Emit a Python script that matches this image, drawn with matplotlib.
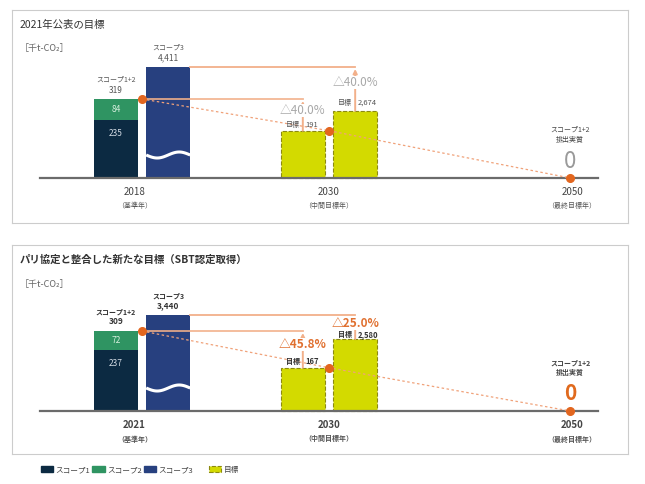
import numpy as np
import matplotlib.pyplot as plt
from matplotlib.patches import Patch

plt.rcParams['font.family'] = ['Noto Sans CJK JP', 'DejaVu Sans']

# values in 千t-CO2, one entry per panel (2021 announcement, SBT-aligned)
panel_titles = ['2021年公表の目標', 'パリ協定と整合した新たな目標（SBT認定取得）']
base_years = ['2018', '2021']
years_after = ['2030', '2050']
year_notes = ['（基準年）', '（中間目標年）', '（最終目標年）']
scope1 = [235, 237]
scope2 = [84, 72]
scope12 = [319, 309]
scope3 = [4411, 3440]
target12 = [191, 167]
target3 = [2674, 2580]
cut12 = ['△40.0%', '△45.8%']
cut3 = ['△40.0%', '△25.0%']
net_zero = [0, 0]
legend_labels = ['スコープ1', 'スコープ2', 'スコープ3', '目標']

# colours
C1, C2, C3 = '#0c2a42', '#2f9462', '#27407f'
CT, CTE = '#d3da00', '#8c8a10'
DOT, LINE, DASH = '#e2661f', '#f2b08a', '#f0a27a'

W, H = 645, 484
fig = plt.figure(figsize=(W / 100, H / 100), dpi=100)

X0, PX = 142, 187          # pixel of first group, pixels per group step
xpos = [0, 1, 2.29]
xlab_shift = [-0.04, 0, 0.01]
DX, BW = 0.14, 0.235

# panel boxes in pixels: left, top, right, bottom, baseline
boxes = [(12, 10, 628, 223, 178), (12, 245, 628, 454, 411)]
k12s = [79 / 319, 80 / 309]     # px per unit, scope 1+2
k3s = [111 / 4411, 96 / 3440]   # px per unit, scope 3 (broken scale)
P = 0.72                        # points per pixel


def draw_panel(i):
    left, top, right, bottom, base = boxes[i]
    h = bottom - top
    off = bottom - base
    k12, k3 = k12s[i], k3s[i]
    bold = 'bold' if i == 1 else 'normal'
    txt = '#333333' if i == 1 else '#555555'
    pct_col = '#e07030' if i == 1 else '#a8a8a8'

    ax = fig.add_axes([left / W, 1 - bottom / H, (right - left) / W, h / H])
    ax.set_xlim((left - X0) / PX, (right - X0) / PX)
    ax.set_ylim(-off / k12, (h - off) / k12)
    ax3 = ax.twinx()
    ax3.set_ylim(-off / k3, (h - off) / k3)
    ax.set_zorder(ax3.get_zorder() + 1)
    ax.patch.set_visible(False)
    ax.set_xticks([])
    ax.set_yticks([])
    ax3.set_yticks([])
    for s in ax3.spines.values():
        s.set_visible(False)
    for s in ax.spines.values():
        s.set_color('#cccccc')
        s.set_linewidth(0.8)

    x0, x1, x2 = xpos
    s1, s2, s12, s3 = scope1[i], scope2[i], scope12[i], scope3[i]
    t12, t3 = target12[i], target3[i]

    # bars
    ax.bar(x0 - DX, s1, BW, color=C1, zorder=2)
    ax.bar(x0 - DX, s2, BW, bottom=s1, color=C2, zorder=2)
    ax3.bar(x0 + DX, s3, BW, color=C3, zorder=2)
    ax.bar(x1 - DX, t12, BW, color=CT, edgecolor=CTE, linestyle='--', linewidth=0.8, zorder=2)
    ax3.bar(x1 + DX, t3, BW, color=CT, edgecolor=CTE, linestyle='--', linewidth=0.8, zorder=2)

    # break mark on the scope 3 bar
    wx = np.linspace(x0 + DX - BW / 2, x0 + DX + BW / 2, 60)
    wy = (23 + 3 * np.sin((wx - wx[0]) / BW * 2 * np.pi + np.pi)) / k12
    ax.plot(wx, wy, color='white', lw=2.2, zorder=6, solid_capstyle='butt')

    # baseline
    ax.plot([(40 - X0) / PX, (598 - X0) / PX], [0, 0], color='#6b6b6b', lw=1.6, zorder=3)

    # reduction connectors
    ax.plot([x0, x1 - DX], [s12, s12], color=LINE, lw=1.3, alpha=0.9, zorder=3)
    ax.annotate('', xy=(x1 - DX, s12 - 2 / k12), xytext=(x1 - DX, t12),
                arrowprops=dict(arrowstyle='-|>', color=LINE, lw=1.4,
                                shrinkA=0, shrinkB=0, mutation_scale=6), zorder=3)
    ax3.plot([x0 + DX + BW / 2, x1 + DX], [s3, s3], color=LINE, lw=1.3, zorder=3)
    ax3.annotate('', xy=(x1 + DX, s3 - 2 / k3), xytext=(x1 + DX, t3),
                 arrowprops=dict(arrowstyle='-|>', color=LINE, lw=1.4,
                                 shrinkA=0, shrinkB=0, mutation_scale=6), zorder=3)

    # scope 1+2 pathway
    ax.plot([x0, x1, x2], [s12, t12, net_zero[i]], color=DASH, lw=0.9,
            ls=(0, (2, 2)), zorder=4)
    ax.plot([x0, x1, x2], [s12, t12, net_zero[i]], 'o', color=DOT, ms=5.5, zorder=7)

    # bar labels
    def lab(a, x, y, s, dy, size, color=txt, weight=bold, dx=0, ha='center', bg=False):
        kw = {}
        if bg:
            kw['bbox'] = dict(boxstyle='square,pad=0.0', fc='white', ec='none')
        a.annotate(s, (x, y), xytext=(dx * P, dy * P), textcoords='offset points',
                   ha=ha, va='center', fontsize=size, color=color, fontweight=weight,
                   zorder=8, **kw)

    lab(ax, x0 - DX, s12, 'スコープ1+2', 19, 5)
    lab(ax, x0 - DX, s12, f'{s12:,}', 9, 6)
    lab(ax3, x0 + DX, s3, 'スコープ3', 19, 5)
    lab(ax3, x0 + DX, s3, f'{s3:,}', 9, 6)
    lab(ax, x0 - DX, s1 + s2 / 2, f'{s2:,}', 0, 6, color='#d6eedd', weight='normal')
    lab(ax, x0 - DX, s1, f'{s1:,}', -14, 6, color='#d3dbe4', weight='normal')

    for a, xc, s, t, cut in [(ax, x1 - DX, s12, t12, cut12[i]), (ax3, x1 + DX, s3, t3, cut3[i])]:
        lab(a, xc, s - 0.36 * (s - t), cut, 0, 8.5, color=pct_col, bg=True)
        lab(a, xc, t + 0.18 * (s - t), '目標', 0, 5, dx=-3, ha='right')
        lab(a, xc, t + 0.18 * (s - t), f'{t:,}', 0, 5.5, dx=3, ha='left')

    # net zero at 2050
    lab(ax, x2, 0, 'スコープ1+2', 48, 5, color='#444444')
    lab(ax, x2, 0, '排出実質', 38, 5, color='#444444')
    lab(ax, x2, 0, '0', 17, 16 if i == 0 else 15,
        color='#9a9a9a' if i == 0 else '#e06a1e')

    # year labels
    for xv, sh, yr, note in zip(xpos, xlab_shift, [base_years[i]] + years_after, year_notes):
        lab(ax, xv + sh, 0, yr, -14, 7, color='#444444')
        lab(ax, xv + sh, 0, note, -28, 5, color='#555555')

    # titles
    fig.text(20 / W, 1 - (top + 15) / H, panel_titles[i], fontsize=7.5, color='#333333',
             fontweight=bold, va='center')
    fig.text(20 / W, 1 - (top + 39) / H, '［千t-CO₂］', fontsize=6.5, color='#666666',
             va='center')


draw_panel(0)
draw_panel(1)

handles = [Patch(color=C1), Patch(color=C2), Patch(color=C3)]
fig.legend(handles, legend_labels[:3], loc='center left', bbox_to_anchor=(34 / W, 1 - 470 / H),
           ncol=3, frameon=False, fontsize=5.5, handlelength=1.6, handleheight=0.8,
           handletextpad=0.3, columnspacing=0.3, labelcolor='#444444')
fig.legend([Patch(facecolor=CT, edgecolor=CTE, linestyle='--', linewidth=0.8)], legend_labels[3:],
           loc='center left', bbox_to_anchor=(202 / W, 1 - 470 / H), frameon=False,
           fontsize=5.5, handlelength=1.6, handleheight=0.8, handletextpad=0.3,
           labelcolor='#444444')

fig.savefig('out.png', dpi=100)
